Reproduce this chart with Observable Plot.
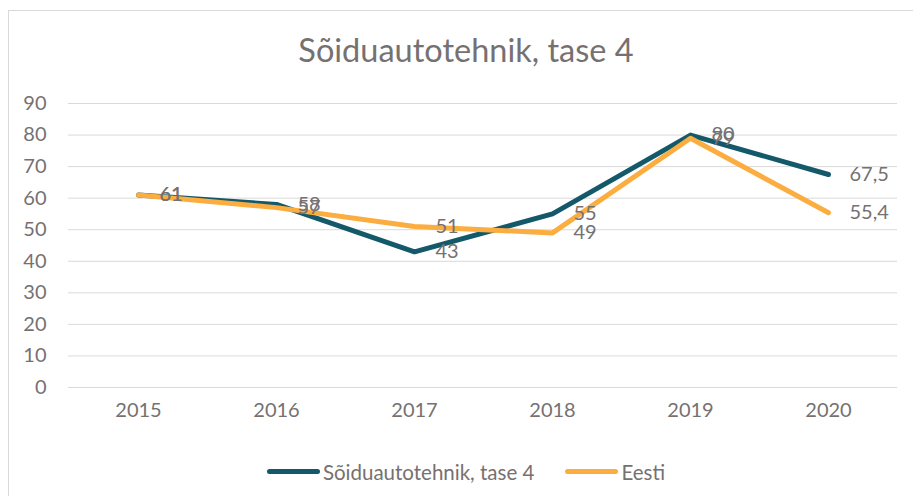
<!DOCTYPE html>
<html><head><meta charset="utf-8">
<script src="https://cdn.jsdelivr.net/npm/d3@7"></script>
<script src="https://cdn.jsdelivr.net/npm/@observablehq/plot@0.6"></script>
<style>
body{margin:0;width:913px;height:496px;overflow:hidden;background:#fff;font-family:Lato,sans-serif;position:relative}
#frame{position:absolute;left:8px;top:10px;width:940px;height:520px;border:1px solid #d9d9d9;box-sizing:border-box}
#title{position:absolute;left:0;width:932px;top:29px;text-align:center;font-size:32.5px;color:#767171;line-height:42px}
#chart{position:absolute;left:0;top:90px}
#legend{position:absolute;left:0;width:932px;top:453px;text-align:center;font-size:20.5px;color:#767171;line-height:26px;white-space:nowrap}
.item{display:inline-flex;align-items:center;margin:0 15.5px}
.sw{display:inline-block;width:53px;height:5px;border-radius:3px;margin-right:3px}
</style>
</head><body>
<div id="frame"></div>
<div id="title">Sõiduautotehnik, tase 4</div>
<div id="chart"></div>
<div id="legend"></div>
<script>
const years = ["2015","2016","2017","2018","2019","2020"];
const seriesA = [61, 58, 43, 55, 80, 67.5];
const seriesB = [61, 57, 51, 49, 79, 55.4];
const names = ["Sõiduautotehnik, tase 4", "Eesti"];
const colors = ["#13596A", "#FBAD3F"];
const yTicks = [0,10,20,30,40,50,60,70,80,90];

const data = years.flatMap((y, i) => [
  {year: y, value: seriesA[i], series: names[0]},
  {year: y, value: seriesB[i], series: names[1]}
]);
const fmt = v => String(v).replace(".", ",");

const chart = Plot.plot({
  width: 913, height: 340,
  marginLeft: 68, marginRight: 16, marginTop: 13, marginBottom: 43,
  style: {fontFamily: "Lato, sans-serif", fontSize: "20px", color: "#767171", background: "transparent"},
  x: {type: "point", domain: years, padding: 0.5, label: null},
  y: {domain: [0, 90], label: null},
  color: {domain: names, range: colors},
  marks: [
    Plot.gridY(yTicks, {stroke: "#d9d9d9", strokeOpacity: 1}),
    Plot.axisY(yTicks, {tickSize: 0, tickPadding: 22, fontSize: 20, label: null, fill: "#767171"}),
    Plot.axisX({tickSize: 0, tickPadding: 15, fontSize: 20, label: null, fill: "#767171"}),
    Plot.ruleY([0], {stroke: "#d9d9d9"}),
    Plot.line(data, {x: "year", y: "value", z: "series", stroke: "series", strokeWidth: 5, strokeLinecap: "round", strokeLinejoin: "round"}),
    Plot.text(data, {x: "year", y: "value", text: d => fmt(d.value), dx: 21, textAnchor: "start", fill: "#767171", fontSize: 20})
  ]
});
document.getElementById("chart").appendChild(chart);

const leg = document.getElementById("legend");
names.forEach((n, i) => {
  const it = document.createElement("span");
  it.className = "item";
  const sw = document.createElement("span");
  sw.className = "sw";
  sw.style.background = colors[i];
  it.appendChild(sw);
  it.appendChild(document.createTextNode(n));
  leg.appendChild(it);
});
</script>
</body></html>
